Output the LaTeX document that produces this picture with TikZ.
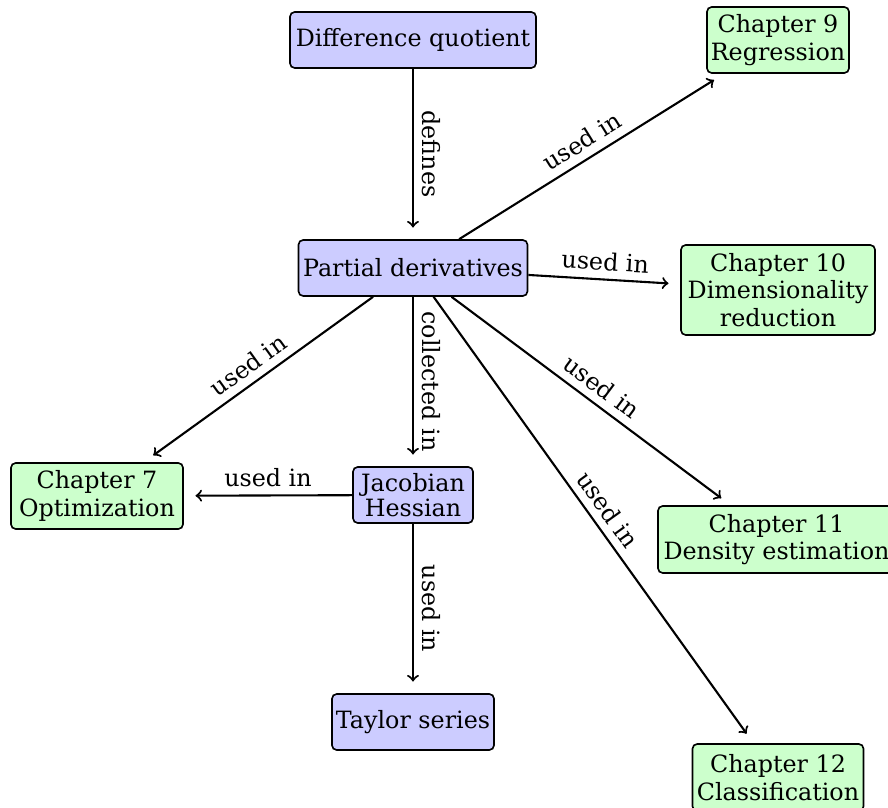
\documentclass[tikz,border=0pt]{standalone}
\usepackage{fontspec}
\setmainfont{DejaVu Serif}
\begin{document}
\begin{tikzpicture}[x=0.42857pt, y=-0.42857pt]
\tikzset{
  sz/.style 2 args={minimum width=#1*0.42857pt, minimum height=#2*0.42857pt},
  box/.style={draw, rounded corners=2pt, line width=0.7pt, inner sep=0pt,
    align=center, font=\fontsize{10.2}{11.8}\selectfont},
  bluebox/.style={box, fill=blue!20},
  chap/.style={box, fill=green!20},
  lbl/.style={font=\fontsize{10.2}{12}\selectfont, inner sep=3.3pt},
  conn/.style={->, line width=0.9pt, shorten >=5pt},
}
\useasboundingbox (0,0) rectangle (888,808);

% concept nodes
\node[bluebox, sz={246}{56}] (dq) at (413,40) {Difference quotient};
\node[bluebox, sz={229}{56}] (pd) at (413,268) {Partial derivatives};
\node[bluebox, sz={120}{56}, font=\fontsize{10.2}{9.4}\selectfont] (jh) at (413,495) {Jacobian\\Hessian};
\node[bluebox, sz={162}{56}] (ts) at (413,722) {Taylor series};

% chapter nodes
\node[chap, sz={142}{66}] (c9) at (778,40) {Chapter 9\\Regression};
\node[chap, sz={194}{90}] (c10) at (778,290) {Chapter 10\\Dimensionality\\reduction};
\node[chap, sz={172}{66}] (c7) at (97,496) {Chapter 7\\Optimization};
\node[chap, sz={237}{67}] (c11) at (776.5,539.5) {Chapter 11\\Density estimation};
\node[chap, sz={171}{67}] (c12) at (778,777.5) {Chapter 12\\Classification};

% connectors
\draw[conn] (dq) -- node[lbl, sloped, above] {defines} (pd);
\draw[conn] (pd) -- node[lbl, sloped, above] {collected in} (jh);
\draw[conn] (jh) -- node[lbl, sloped, above] {used in} (ts);
\draw[conn] (jh) -- node[lbl, above] {used in} (c7);
\draw[conn] (pd) -- node[lbl, sloped, above] {used in} (c7);
\draw[conn] (pd) -- node[lbl, sloped, above] {used in} (c9);
\draw[conn] (pd) -- node[lbl, sloped, above] {used in} (c10);
\draw[conn] (pd) -- node[lbl, sloped, above] {used in} (c11);
\draw[conn] (pd) -- node[lbl, sloped, above] {used in} (c12);
\end{tikzpicture}
\end{document}
